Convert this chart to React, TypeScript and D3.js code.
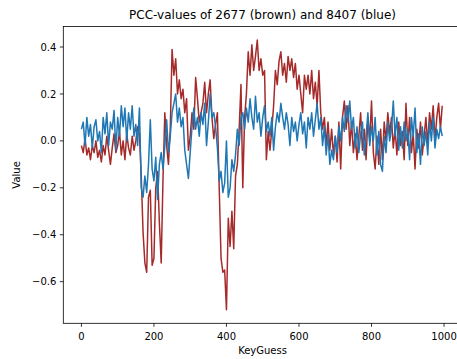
import React from "react";
import * as d3 from "d3";

const STEP = 5;
// brown series (2677), sampled every 5 key guesses
const brown: number[] = [
  -0.02, -0.05, 0.01, -0.06, -0.03, -0.08, -0.02, -0.05, 0.0, -0.07,
  -0.04, -0.09, -0.02, -0.06, 0.02, -0.04, -0.1, -0.03, 0.03, -0.05,
  -0.02, 0.04, -0.06, 0.0, -0.08, 0.03, -0.03, -0.06, 0.02, -0.04,
  0.0, 0.06, 0.03, -0.15, -0.39, -0.52, -0.56, -0.24, -0.21, -0.53,
  -0.5, -0.2, -0.13, -0.35, -0.52, -0.16, 0.12, -0.02, -0.1, 0.05,
  0.39, 0.28, 0.35, 0.2, 0.26, 0.18, 0.22, 0.12, 0.18, -0.04,
  0.02, 0.12, 0.05, 0.27, 0.18, 0.08, 0.12, 0.16, 0.25, 0.12,
  0.2, 0.26, 0.1, 0.01, 0.07, 0.12, -0.2, -0.5, -0.56, -0.55,
  -0.72, -0.33, -0.45, -0.3, -0.46, -0.15, -0.1, 0.05, 0.24, -0.2,
  0.1, 0.2, 0.38, 0.28, 0.41, 0.3, 0.36, 0.43, 0.3, 0.35,
  0.28, 0.3, -0.08, 0.04, -0.04, 0.05, 0.15, 0.3, 0.24, 0.34,
  0.38, 0.28, 0.33, 0.25, 0.36, 0.3, 0.35, 0.27, 0.33, 0.22,
  0.28, 0.2, 0.12, 0.28, 0.22, 0.28, 0.2, 0.3, 0.18, 0.25,
  0.15, 0.3, 0.12, 0.05, 0.1, -0.02, 0.08, -0.04, 0.05, -0.06,
  0.02, -0.09, 0.08, -0.12, 0.1, 0.17, 0.05, 0.15, -0.02, 0.08,
  -0.05, 0.03, -0.08, 0.02, 0.12, -0.04, 0.05, -0.08, 0.1, 0.0,
  0.17, -0.05, -0.12, 0.02, -0.1, 0.05, -0.08, 0.08, 0.0, 0.12,
  0.03, 0.1, -0.03, 0.05, -0.06, 0.08, -0.02, 0.04, -0.08, 0.16,
  -0.02, 0.1, -0.05, 0.03, -0.12, 0.05, -0.03, 0.08, -0.06, 0.02,
  0.1, -0.02, 0.12, 0.05, 0.15, 0.0, 0.1, 0.16, 0.05, 0.15,
];
// blue series (8407)
const blue: number[] = [
  0.05, 0.08, -0.02, 0.1, 0.02, 0.07, -0.03, 0.06, 0.09, 0.0,
  0.04, -0.05, 0.1, 0.03, 0.12, -0.02, 0.08, 0.05, 0.13, -0.04,
  0.1, 0.02, 0.15, 0.06, 0.14, 0.0, 0.12, 0.05, 0.15, 0.02,
  0.07, -0.02, 0.14, -0.2, -0.24, -0.15, -0.22, -0.1, 0.09, -0.12,
  -0.17, -0.07, -0.25, -0.1, -0.05, -0.12, -0.02, 0.09, -0.05, 0.02,
  0.12, 0.16, 0.2, 0.08, 0.14, 0.06, 0.1, -0.04, -0.1, -0.16,
  -0.05, 0.06, 0.14, 0.05, 0.1, 0.02, 0.12, 0.07, 0.16, -0.02,
  0.08, 0.2, 0.1, 0.12, 0.06, -0.03, -0.17, -0.13, -0.22, -0.18,
  0.0, -0.24, -0.2, -0.08, -0.13, -0.06, 0.05, -0.02, 0.1, 0.12,
  0.05, 0.14, 0.08, 0.18, 0.1, 0.05, 0.19, 0.08, 0.12, 0.02,
  0.1, 0.15, 0.04, 0.08, 0.02, 0.1, -0.04, 0.06, 0.12, 0.08,
  0.16, 0.1, 0.05, 0.12, 0.07, -0.02, 0.1, 0.04, 0.08, 0.0,
  0.07, 0.12, 0.03, 0.08, -0.03, 0.1, 0.05, 0.12, 0.02, 0.09,
  0.16, 0.05, 0.1, -0.02, 0.06, -0.06, 0.03, -0.1, -0.04, -0.08,
  0.02, -0.05, 0.06, 0.0, 0.1, 0.04, 0.15, 0.08, 0.17, 0.05,
  0.1, -0.03, 0.06, -0.05, 0.03, 0.08, -0.06, 0.02, 0.12, -0.02,
  0.06, 0.0, 0.1, -0.06, 0.04, -0.1, -0.13, 0.02, -0.05, 0.08,
  0.0, 0.05, 0.17, 0.02, 0.1, -0.04, 0.06, -0.03, 0.08, 0.0,
  0.05, -0.08, 0.1, 0.02, 0.14, -0.05, 0.03, -0.1, 0.06, -0.02,
  0.04, -0.06, 0.08, 0.0, 0.1, -0.03, 0.05, 0.01, 0.06, 0.02,
];
const xTicks = [0, 200, 400, 600, 800, 1000];
const yTicks = [-0.6, -0.4, -0.2, 0.0, 0.2, 0.4];
const TITLE = "PCC-values of 2677 (brown) and 8407 (blue)";
const X_LABEL = "KeyGuess";
const Y_LABEL = "Value";

const W = 457;
const H = 359;
const M = { left: 63.3, top: 26.5, right: 461.8, bottom: 323.3 };
const FONT = "DejaVu Sans, sans-serif";

export default function App() {
  const xMin = 0;
  const xMax = 999;
  const xPad = (xMax - xMin) * 0.05;
  const x = d3.scaleLinear().domain([xMin - xPad, xMax + xPad]).range([M.left, M.right]);
  const all = brown.concat(blue);
  const yLo = d3.min(all) as number;
  const yHi = d3.max(all) as number;
  const yPad = (yHi - yLo) * 0.05;
  const y = d3.scaleLinear().domain([yLo - yPad, yHi + yPad]).range([M.bottom, M.top]);
  const line = d3
    .line<number>()
    .x((_, i) => x(i * STEP))
    .y((d) => y(d));
  const fmt = (v: number) => {
    const s = Math.abs(v).toFixed(1);
    return v < -1e-9 ? "\u2212" + s : s;
  };
  return (
    <svg
      width={W}
      height={H}
      style={{ position: "absolute", left: 0, top: 0, background: "#fff" }}
      fontFamily={FONT}
    >
      <defs>
        <clipPath id="plot">
          <rect x={M.left} y={M.top} width={M.right - M.left} height={M.bottom - M.top} />
        </clipPath>
      </defs>
      <g clipPath="url(#plot)">
        <path d={line(brown) || ""} fill="none" stroke="#a52a2a" strokeWidth={1.5} strokeLinejoin="round" />
        <path d={line(blue) || ""} fill="none" stroke="#1f77b4" strokeWidth={1.5} strokeLinejoin="round" />
      </g>
      <rect
        x={M.left}
        y={M.top}
        width={M.right - M.left}
        height={M.bottom - M.top}
        fill="none"
        stroke="#000"
        strokeWidth={0.8}
      />
      {xTicks.map((t) => (
        <g key={"x" + t}>
          <line x1={x(t)} x2={x(t)} y1={M.bottom} y2={M.bottom + 3.5} stroke="#000" strokeWidth={0.8} />
          <text x={x(t)} y={M.bottom + 16.5} fontSize={10} textAnchor="middle" fill="#000">
            {t}
          </text>
        </g>
      ))}
      {yTicks.map((t) => (
        <g key={"y" + t}>
          <line x1={M.left - 3.5} x2={M.left} y1={y(t)} y2={y(t)} stroke="#000" strokeWidth={0.8} />
          <text x={M.left - 7} y={y(t) + 3.6} fontSize={10} textAnchor="end" fill="#000">
            {fmt(t)}
          </text>
        </g>
      ))}
      <text x={(M.left + M.right) / 2} y={354} fontSize={10} textAnchor="middle" fill="#000">
        {X_LABEL}
      </text>
      <text
        transform={`translate(${20},${(M.top + M.bottom) / 2}) rotate(-90)`}
        fontSize={10}
        textAnchor="middle"
        fill="#000"
      >
        {Y_LABEL}
      </text>
      <text x={(M.left + M.right) / 2} y={19} fontSize={12} textAnchor="middle" fill="#000">
        {TITLE}
      </text>
    </svg>
  );
}
